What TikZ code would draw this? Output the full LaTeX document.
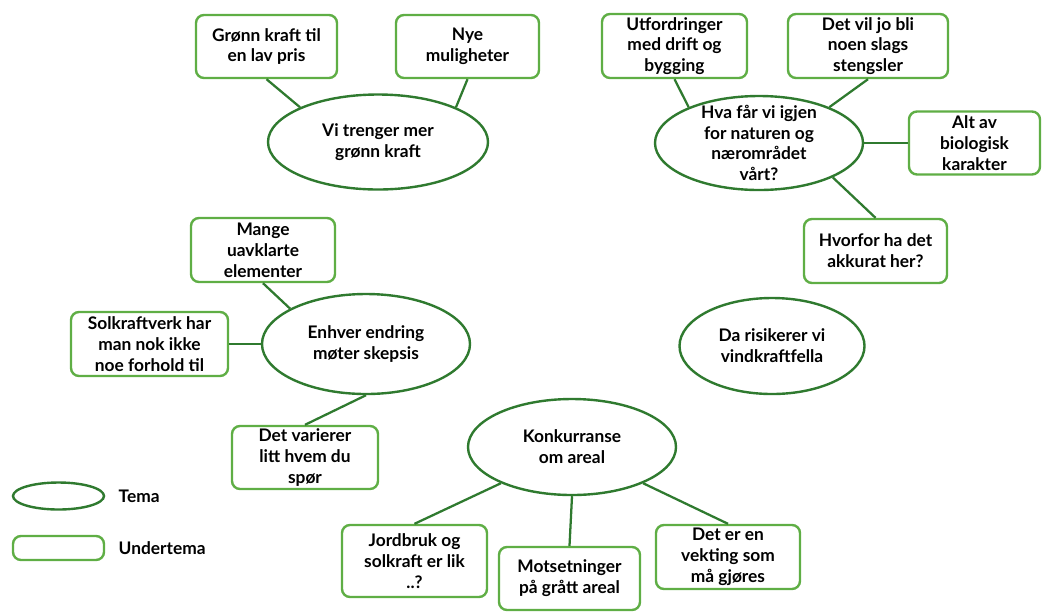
\documentclass[tikz,border=0pt]{standalone}
\usepackage{fontspec}
\setmainfont{Lato}
\usetikzlibrary{shapes.geometric}
\definecolor{subgreen}{HTML}{5FAE45}
\definecolor{themegreen}{HTML}{2F7A2F}
\tikzset{
  txt/.style={font=\bfseries\fontsize{13}{15.6}\selectfont, align=center, text=black},
  sub/.style={draw=subgreen, line width=1.8pt, rounded corners=6pt, fill=white, inner sep=0pt, txt},
  theme/.style={draw=themegreen, line width=1.8pt, ellipse, fill=white, inner sep=0pt},
  conn/.style={draw=themegreen, line width=1.7pt},
  sz/.style 2 args={minimum width=#1*0.75pt, minimum height=#2*0.75pt}
}
\begin{document}
\begin{tikzpicture}[x=0.75pt, y=-0.75pt]
\useasboundingbox (0,0) rectangle (1044,615);
% themes
\node[theme, sz={220}{95}, label={[txt]center:Vi trenger mer\\grønn kraft}] (e1) at (378,142) {};
\node[theme, sz={208}{94}, label={[txt]center:Hva får vi igjen\\for naturen og\\nærområdet\\vårt?}] (e2) at (759,143) {};
\node[theme, sz={208}{100}, label={[txt]center:Enhver endring\\møter skepsis}] (e3) at (366,344) {};
\node[theme, sz={185}{96}, label={[txt]center:Da risikerer vi\\vindkraftfella}] (e4) at (772,346) {};
\node[theme, sz={208}{96}, label={[txt]center:Konkurranse\\om areal}] (e5) at (572,447) {};
% subthemes
\node[sub, sz={141}{63}] (r1) at (266.5,46.5) {Grønn kraft til\\en lav pris};
\node[sub, sz={143}{63}] (r2) at (467.5,46.5) {Nye\\muligheter};
\node[sub, sz={145}{64}] (r3) at (674.5,46) {Utfordringer\\med drift og\\bygging};
\node[sub, sz={160}{64}] (r4) at (868,46) {Det vil jo bli\\noen slags\\stengsler};
\node[sub, sz={131}{63}] (r5) at (974.5,143) {Alt av\\biologisk\\karakter};
\node[sub, sz={143}{64}] (r6) at (875.5,251) {Hvorfor ha det\\akkurat her?};
\node[sub, sz={144}{64}] (r7) at (263,250) {Mange\\uavklarte\\elementer};
\node[sub, sz={157}{64}] (r8) at (149.5,344) {Solkraftverk har\\man nok ikke\\noe forhold til};
\node[sub, sz={146}{63}] (r9) at (305,457.5) {Det varierer\\litt hvem du\\spør};
\node[sub, sz={145}{72}] (r10) at (414.5,561) {Jordbruk og\\solkraft er lik\\..?};
\node[sub, sz={141}{63}] (r11) at (569.5,578.5) {Motsetninger\\på grått areal};
\node[sub, sz={144}{64}] (r12) at (728,557) {Det er en\\vekting som\\må gjøres};
% connectors
\draw[conn] (r1.south) -- (e1.156);
\draw[conn] (r2.south) -- (e1.24);
\draw[conn] (r3.south) -- (e2.153);
\draw[conn] (r4.south) -- (e2.27);
\draw[conn] (r5.west) -- (e2.east);
\draw[conn] (r6.north) -- (e2.-25);
\draw[conn] (r7.south) -- (e3.155);
\draw[conn] (r8.east) -- (e3.west);
\draw[conn] (r9.north) -- (e3.south);
\draw[conn] (r10.north) -- (e5.-153);
\draw[conn] (r11.north) -- (e5.south);
\draw[conn] (r12.north) -- (e5.-27);
% legend
\node[theme, sz={91}{27}] (le) at (58.5,496) {};
\node[sub, sz={91}{24}] (lr) at (58.5,548) {};
\node[txt, anchor=west] (lt) at (114,496) {Tema};
\node[txt, anchor=west] (lu) at (114,548) {Undertema};
\end{tikzpicture}
\end{document}
